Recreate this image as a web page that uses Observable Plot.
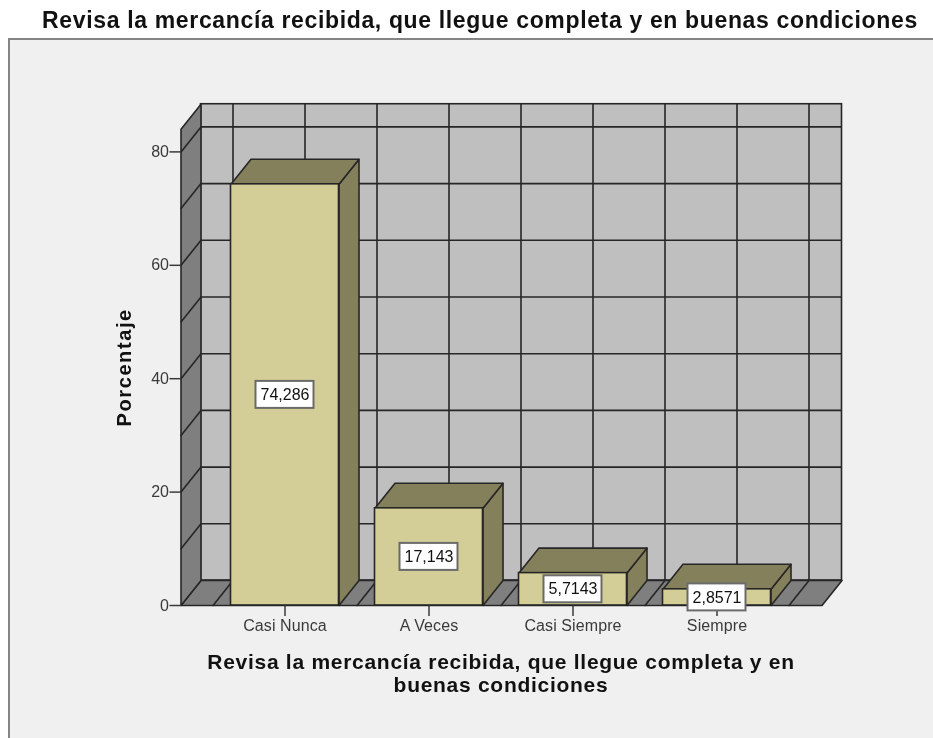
<!DOCTYPE html>
<html><head><meta charset="utf-8">
<script src="https://cdn.jsdelivr.net/npm/d3@7"></script>
<script src="https://cdn.jsdelivr.net/npm/@observablehq/plot@0.6"></script>
<style>
html,body{margin:0;padding:0;background:#fff;width:933px;height:738px;overflow:hidden}
#title{position:absolute;left:0;top:7px;width:960px;text-align:center;font:bold 23px "Liberation Sans",sans-serif;letter-spacing:.65px;color:#111;white-space:nowrap;filter:blur(.35px)}
#panel{position:absolute;left:8px;top:38px;width:925px;height:700px;background:#f0f0f0;border-left:2px solid #858585;border-top:2px solid #858585;box-sizing:border-box;filter:blur(.35px)}
svg{display:block}
.axis-title{letter-spacing:.72px}
.y-title{letter-spacing:1.6px}
.cat text{letter-spacing:.1px}
</style></head><body>
<div id="title">Revisa la mercancía recibida, que llegue completa y en buenas condiciones</div>
<div id="panel"></div>
<script>
const categories = ["Casi Nunca","A Veces","Casi Siempre","Siempre"];
const values = [74.286,17.143,5.7143,2.8571];
const valueLabels = ["74,286","17,143","5,7143","2,8571"];
const yTicks = [0,20,40,60,80];
const wallGridY = [10,20,30,40,50,60,70,80];
const wallGridX = [-0.5,0,0.5,1,1.5,2,2.5,3,3.5];
const xTitle = "Revisa la mercancía recibida, que llegue completa y en\nbuenas condiciones";
const yTitle = "Porcentaje";

// scale layout (one category = 144px, one percent = 5.67px)
const pxX = 144, pxY = 5.67;
const depthX = 20/pxX, depthY = 25/pxY, half = 54/pxX;
const wallL = -104/pxX, wallR = 537/pxX, wallTop = 84;
const boxW = 29/pxX, boxH = 13.5/pxY;

const poly = (id, pts) => pts.map(([x,y]) => ({id,x,y}));
const floor = poly("floor",[[wallL,0],[wallR,0],[wallR+depthX,depthY],[wallL+depthX,depthY]]);
const leftWall = poly("left",[[wallL,0],[wallL,wallTop],[wallL+depthX,wallTop+depthY],[wallL+depthX,depthY]]);
const slantFloor = wallGridX.flatMap((g,i)=>[{id:"f"+i,x:g,y:0},{id:"f"+i,x:g+depthX,y:depthY}]);
const slantWall = wallGridY.flatMap(v=>[{id:"w"+v,x:wallL,y:v},{id:"w"+v,x:wallL+depthX,y:v+depthY}]);
const tops = values.flatMap((v,i)=>poly("t"+i,[[i-half,v],[i+half,v],[i+half+depthX,v+depthY],[i-half+depthX,v+depthY]]));
const sides = values.flatMap((v,i)=>poly("s"+i,[[i+half,0],[i+half,v],[i+half+depthX,v+depthY],[i+half+depthX,depthY]]));
const idx = d3.range(values.length);
const line = "#262626", sw = 1.6;

const chart = Plot.plot({
  width: 923, height: 698, marginLeft: 170.5, marginRight: 0, marginTop: 54.7, marginBottom: 133,
  x: {type:"linear", domain:[wallL, 752.5/pxX+wallL], axis:null},
  y: {type:"linear", domain:[0,90], axis:null},
  style: {background:"transparent", fontFamily:'"Liberation Sans",sans-serif', overflow:"visible"},
  marks: [
    Plot.rect([0],{x1:wallL+depthX,x2:wallR+depthX,y1:depthY,y2:wallTop+depthY,fill:"#bfbfbf",stroke:line,strokeWidth:sw}),
    Plot.ruleY(wallGridY,{y:v=>v+depthY,x1:wallL+depthX,x2:wallR+depthX,stroke:line,strokeWidth:sw}),
    Plot.ruleX(wallGridX,{x:g=>g+depthX,y1:depthY,y2:wallTop+depthY,stroke:line,strokeWidth:sw}),
    Plot.line(floor,{x:"x",y:"y",z:"id",curve:"linear-closed",fill:"#7f7f7f",stroke:line,strokeWidth:sw}),
    Plot.line(leftWall,{x:"x",y:"y",z:"id",curve:"linear-closed",fill:"#7f7f7f",stroke:line,strokeWidth:sw}),
    Plot.line(slantFloor,{x:"x",y:"y",z:"id",stroke:line,strokeWidth:sw}),
    Plot.line(slantWall,{x:"x",y:"y",z:"id",stroke:line,strokeWidth:sw}),
    Plot.axisY(yTicks,{anchor:"left",tickSize:11,tickPadding:1,fontSize:16,label:null,color:"#3a3a3a",strokeWidth:1.5}),
    Plot.axisX(idx,{anchor:"bottom",tickSize:11,tickPadding:3,fontSize:16,label:null,color:"#3a3a3a",strokeWidth:1.5,tickFormat:i=>categories[i],className:"cat"}),
    Plot.line(sides,{x:"x",y:"y",z:"id",curve:"linear-closed",fill:"#85805c",stroke:line,strokeWidth:sw}),
    Plot.line(tops,{x:"x",y:"y",z:"id",curve:"linear-closed",fill:"#85805c",stroke:line,strokeWidth:sw}),
    Plot.rect(idx,{x1:i=>i-half,x2:i=>i+half,y1:0,y2:i=>values[i],fill:"#d3ce97",stroke:line,strokeWidth:sw}),
    Plot.rect(idx,{x1:i=>i-boxW,x2:i=>i+boxW,y1:i=>values[i]/2-boxH,y2:i=>values[i]/2+boxH,fill:"#fff",stroke:"#6a6a6a",strokeWidth:2}),
    Plot.text(idx,{x:i=>i,y:i=>values[i]/2,text:i=>valueLabels[i],fontSize:16,fill:"#111"}),
    Plot.text([xTitle],{x:1.5,y:0,dy:68,text:d=>d,fontSize:21,fontWeight:"bold",fill:"#111",lineHeight:1.095,className:"axis-title"}),
    Plot.text([yTitle],{x:wallL,y:42,dx:-56,text:d=>d,rotate:-90,fontSize:20,fontWeight:"bold",fill:"#111",className:"y-title"})
  ]
});
document.getElementById("panel").appendChild(chart);
</script></body></html>
